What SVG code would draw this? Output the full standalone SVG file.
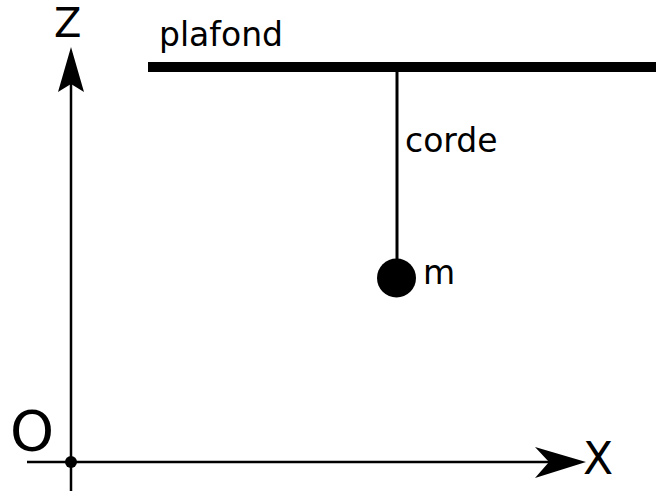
<svg xmlns="http://www.w3.org/2000/svg" width="656" height="491" viewBox="0 0 656 491">
<style>
text{font-family:"DejaVu Sans","Liberation Sans",sans-serif;fill:#000}
.ax{stroke:#000;stroke-width:2.5;fill:none}
</style>
<rect width="656" height="491" fill="#fff"/>
<g id="connectors">
<line class="ax" x1="71" y1="491" x2="71" y2="84"/>
<path d="M71,47 L84,92 L71,84 L58,92 Z" fill="#000"/>
<line class="ax" x1="27" y1="462" x2="550" y2="462"/>
<path d="M586,462 L535,447 L549,462 L535,478 Z" fill="#000"/>
<line x1="397" y1="70" x2="397" y2="262" stroke="#000" stroke-width="3"/>
</g>
<g id="origin">
<circle cx="71" cy="462" r="6" fill="#000"/>
<text x="10" y="450" font-size="56">O</text>
</g>
<g id="z-label"><text x="54" y="37" font-size="40">Z</text></g>
<g id="x-label"><text x="583" y="474" font-size="44">X</text></g>
<g id="plafond">
<rect x="148" y="62" width="508" height="10" fill="#000"/>
<text x="159" y="46" font-size="33">plafond</text>
</g>
<g id="corde"><text x="405" y="152" font-size="33">corde</text></g>
<g id="mass">
<circle cx="396.5" cy="278" r="19.5" fill="#000"/>
<text x="423" y="284" font-size="33">m</text>
</g>
</svg>
